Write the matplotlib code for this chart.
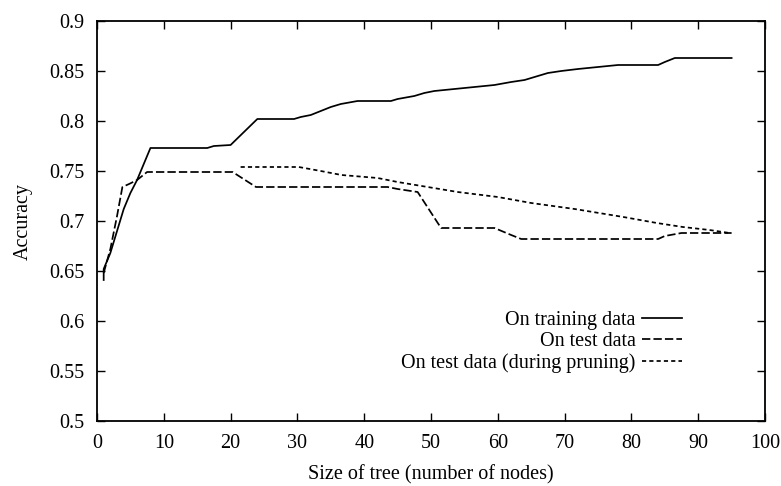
import matplotlib.pyplot as plt

# values
train_x = [1, 1, 2, 3, 4, 5, 6, 7, 8, 12, 16.5, 17.5, 20, 24, 29.5, 30.5, 32, 33.5, 35,
           36.5, 39, 44, 45, 47.5, 49, 50.5, 53.5, 56.5, 59.5, 62, 64, 65.5, 67.5,
           69.5, 72, 75, 78, 84, 85, 86.5, 95]
train_y = [0.641, 0.652, 0.668, 0.690, 0.712, 0.728, 0.741, 0.757, 0.773, 0.773, 0.773,
           0.775, 0.776, 0.802, 0.802, 0.804, 0.806, 0.810, 0.814, 0.817, 0.820, 0.820,
           0.822, 0.825, 0.828, 0.830, 0.832, 0.834, 0.836, 0.839, 0.841, 0.844, 0.848,
           0.850, 0.852, 0.854, 0.856, 0.856, 0.859, 0.863, 0.863]

test_x = [1, 2, 3, 3.8, 4.8, 6, 7.5, 20.3, 23.8, 43.5, 45, 47, 48, 51.5, 59.5, 62,
          63.5, 84, 85, 87.5, 95]
test_y = [0.648, 0.672, 0.705, 0.734, 0.737, 0.741, 0.749, 0.749, 0.734, 0.734, 0.732,
          0.730, 0.729, 0.693, 0.693, 0.686, 0.682, 0.682, 0.685, 0.688, 0.688]

prune_x = [21.5, 30.2, 33.5, 36.6, 42, 45, 48.6, 54, 60, 65, 71.5, 78.8, 83.8, 87.7,
           91.7, 94.7]
prune_y = [0.754, 0.754, 0.750, 0.746, 0.743, 0.739, 0.735, 0.729, 0.724, 0.718, 0.712,
           0.704, 0.698, 0.694, 0.691, 0.688]

x_ticks = [0, 10, 20, 30, 40, 50, 60, 70, 80, 90, 100]
y_ticks = [0.5, 0.55, 0.6, 0.65, 0.7, 0.75, 0.8, 0.85, 0.9]
y_tick_labels = ['0.5', '0.55', '0.6', '0.65', '0.7', '0.75', '0.8', '0.85', '0.9']

plt.rcParams['font.family'] = ['Liberation Serif', 'DejaVu Serif']
plt.rcParams['font.size'] = 14.5

fig = plt.figure(figsize=(7.81, 4.86), dpi=100)
ax = fig.add_axes([97 / 781, 1 - 421 / 486, 668 / 781, 400 / 486])

lw = 1.25
ax.plot(train_x, train_y, color='black', lw=lw, label='On training data')
ax.plot(test_x, test_y, color='black', lw=lw, dashes=(4.8, 1.8), label='On test data')
ax.plot(prune_x, prune_y, color='black', lw=lw, dashes=(2.4, 1.8),
        label='On test data (during pruning)')

ax.set_xlim(0, 100)
ax.set_ylim(0.5, 0.9)
ax.set_xticks(x_ticks)
ax.set_yticks(y_ticks)
ax.set_yticklabels(y_tick_labels)
ax.tick_params(direction='in', length=6, width=1, top=True, right=True, pad=9)
for s in ax.spines.values():
    s.set_linewidth(1.3)

ax.set_xlabel('Size of tree (number of nodes)', labelpad=9)
ax.set_ylabel('Accuracy', labelpad=12)

ax.legend(loc='center right', bbox_to_anchor=((682 - 97) / 668, (421 - 342) / 400),
          markerfirst=False, frameon=False, handlelength=2.0, handletextpad=0.3,
          labelspacing=0.12, borderpad=0, borderaxespad=0)

fig.savefig('out.png', dpi=100)
